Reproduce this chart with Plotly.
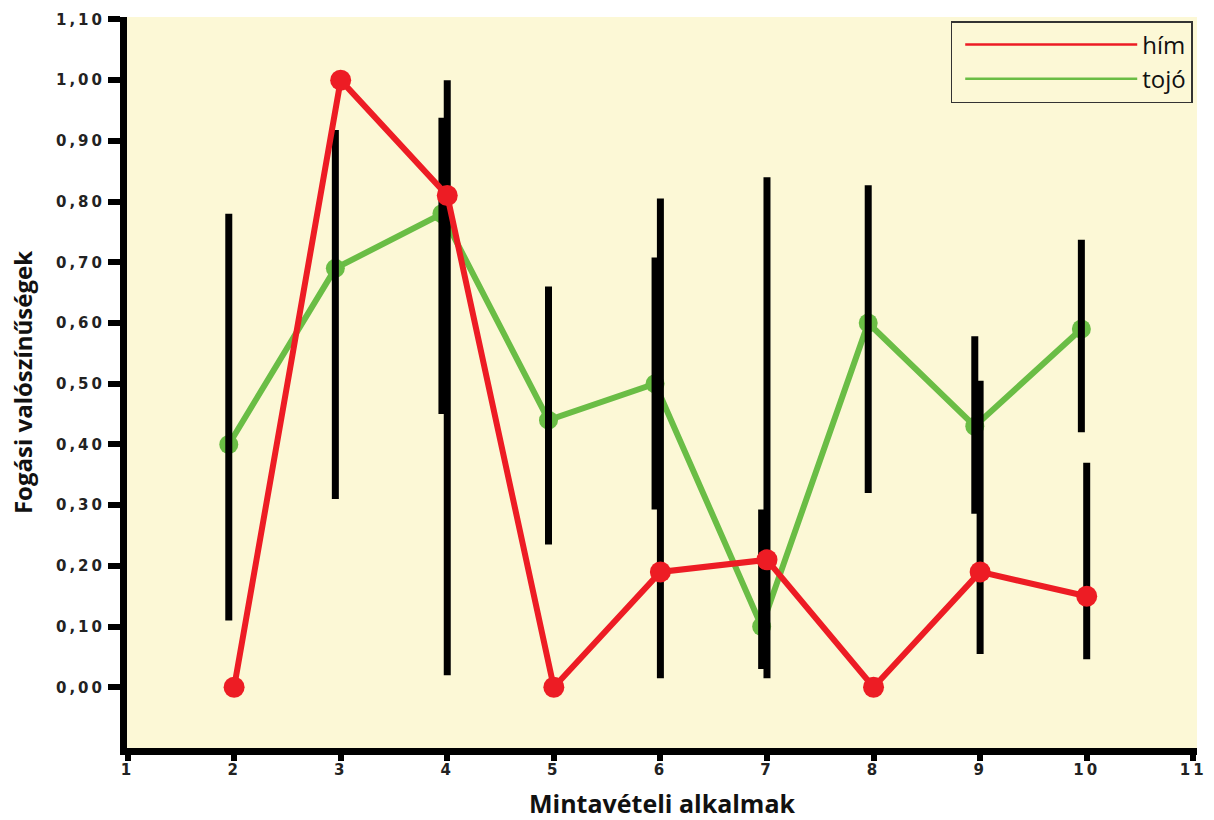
import plotly.graph_objects as go

# ---- data ----
alkalmak = [2, 3, 4, 5, 6, 7, 8, 9, 10]
him = [0.00, 1.00, 0.81, 0.00, 0.19, 0.21, 0.00, 0.19, 0.15]
tojo = [0.40, 0.69, 0.78, 0.44, 0.50, 0.10, 0.60, 0.43, 0.59]
him_lo = [None, None, 0.02, None, 0.015, 0.015, None, 0.055, 0.046]
him_hi = [None, None, 1.00, None, 0.805, 0.84, None, 0.505, 0.37]
tojo_lo = [0.11, 0.31, 0.45, 0.235, 0.293, 0.03, 0.32, 0.286, 0.42]
tojo_hi = [0.78, 0.918, 0.938, 0.66, 0.708, 0.293, 0.827, 0.578, 0.737]
y_ticks = [0.0, 0.1, 0.2, 0.3, 0.4, 0.5, 0.6, 0.7, 0.8, 0.9, 1.0, 1.1]
x_ticks = [1, 2, 3, 4, 5, 6, 7, 8, 9, 10, 11]

# ---- style ----
RED = "#ED1C24"
GREEN = "#6ABD45"
BG = "#FCF8D6"
GREEN_SHIFT = -0.05

x_green = [x + GREEN_SHIFT for x in alkalmak]


def err(vals, lo, hi):
    plus = [(h - v) if h is not None else 0 for v, h in zip(vals, hi)]
    minus = [(v - l) if l is not None else 0 for v, l in zip(vals, lo)]
    return plus, minus


tp, tm = err(tojo, tojo_lo, tojo_hi)
hp, hm = err(him, him_lo, him_hi)

fig = go.Figure()

# green series (below bars)
fig.add_trace(go.Scatter(
    x=x_green, y=tojo, mode="lines+markers", showlegend=False,
    line=dict(color=GREEN, width=6),
    marker=dict(color=GREEN, size=19),
))
# error bars
fig.add_trace(go.Scatter(
    x=x_green, y=tojo, mode="markers", showlegend=False,
    marker=dict(opacity=0, size=1),
    error_y=dict(type="data", symmetric=False, array=tp, arrayminus=tm,
                 color="black", thickness=7, width=0),
))
fig.add_trace(go.Scatter(
    x=alkalmak, y=him, mode="markers", showlegend=False,
    marker=dict(opacity=0, size=1),
    error_y=dict(type="data", symmetric=False, array=hp, arrayminus=hm,
                 color="black", thickness=7, width=0),
))
# red series (on top)
fig.add_trace(go.Scatter(
    x=alkalmak, y=him, mode="lines+markers", showlegend=False,
    line=dict(color=RED, width=6),
    marker=dict(color=RED, size=21),
))
# legend entries
fig.add_trace(go.Scatter(x=[None], y=[None], mode="lines", name="hím",
                         line=dict(color=RED, width=2.5)))
fig.add_trace(go.Scatter(x=[None], y=[None], mode="lines", name="tojó",
                         line=dict(color=GREEN, width=2.5)))

tick_font = dict(family="DejaVu Sans", size=15, color="#222222", weight="bold")
title_font_y = dict(family="Open Sans", size=24, color="#111111", weight="bold")
title_font_x = dict(family="Open Sans", size=25, color="#111111", weight="bold")

fig.update_layout(
    width=1214, height=820,
    margin=dict(l=127, r=17, t=17, b=72),
    paper_bgcolor="white",
    plot_bgcolor=BG,
    separators=",.",
    showlegend=True,
    legend=dict(
        x=0.996, y=0.9945, xanchor="right", yanchor="top",
        bgcolor=BG, bordercolor="#333333", borderwidth=1.5,
        font=dict(family="Open Sans", size=24, color="#111111"),
        itemwidth=172, indentation=8, traceorder="normal",
        tracegroupgap=0,
    ),
    xaxis=dict(
        range=[0.995, 11.035], tickvals=x_ticks,
        showline=True, linecolor="black", linewidth=7,
        ticks="outside", ticklen=6, tickwidth=6, tickcolor="black",
        showgrid=False, zeroline=False, automargin=False,
        tickfont=tick_font, ticklabelstandoff=-4,
        title=dict(text="Mintavételi alkalmak", font=title_font_x, standoff=22),
    ),
    yaxis=dict(
        range=[-0.1, 1.104], tickvals=y_ticks, tickformat=".2f",
        showline=True, linecolor="black", linewidth=7,
        ticks="outside", ticklen=12, tickwidth=6, tickcolor="black",
        showgrid=False, zeroline=False, automargin=False,
        tickfont=tick_font,
        title=dict(text="Fogási valószínűségek", font=title_font_y, standoff=31),
    ),
)

post = """
document.body.style.margin = '0';
document.body.style.overflow = 'hidden';
function spaceTicks() {
  document.querySelectorAll('g.ytick text, g.xtick text').forEach(function (t) {
    t.style.letterSpacing = '3px';
  });
}
spaceTicks();
var gd = document.getElementById('{plot_id}');
if (gd && gd.on) { gd.on('plotly_afterplot', spaceTicks); }
setTimeout(spaceTicks, 0);
"""

fig.write_html("out.html", post_script=post, config={"displayModeBar": False})
